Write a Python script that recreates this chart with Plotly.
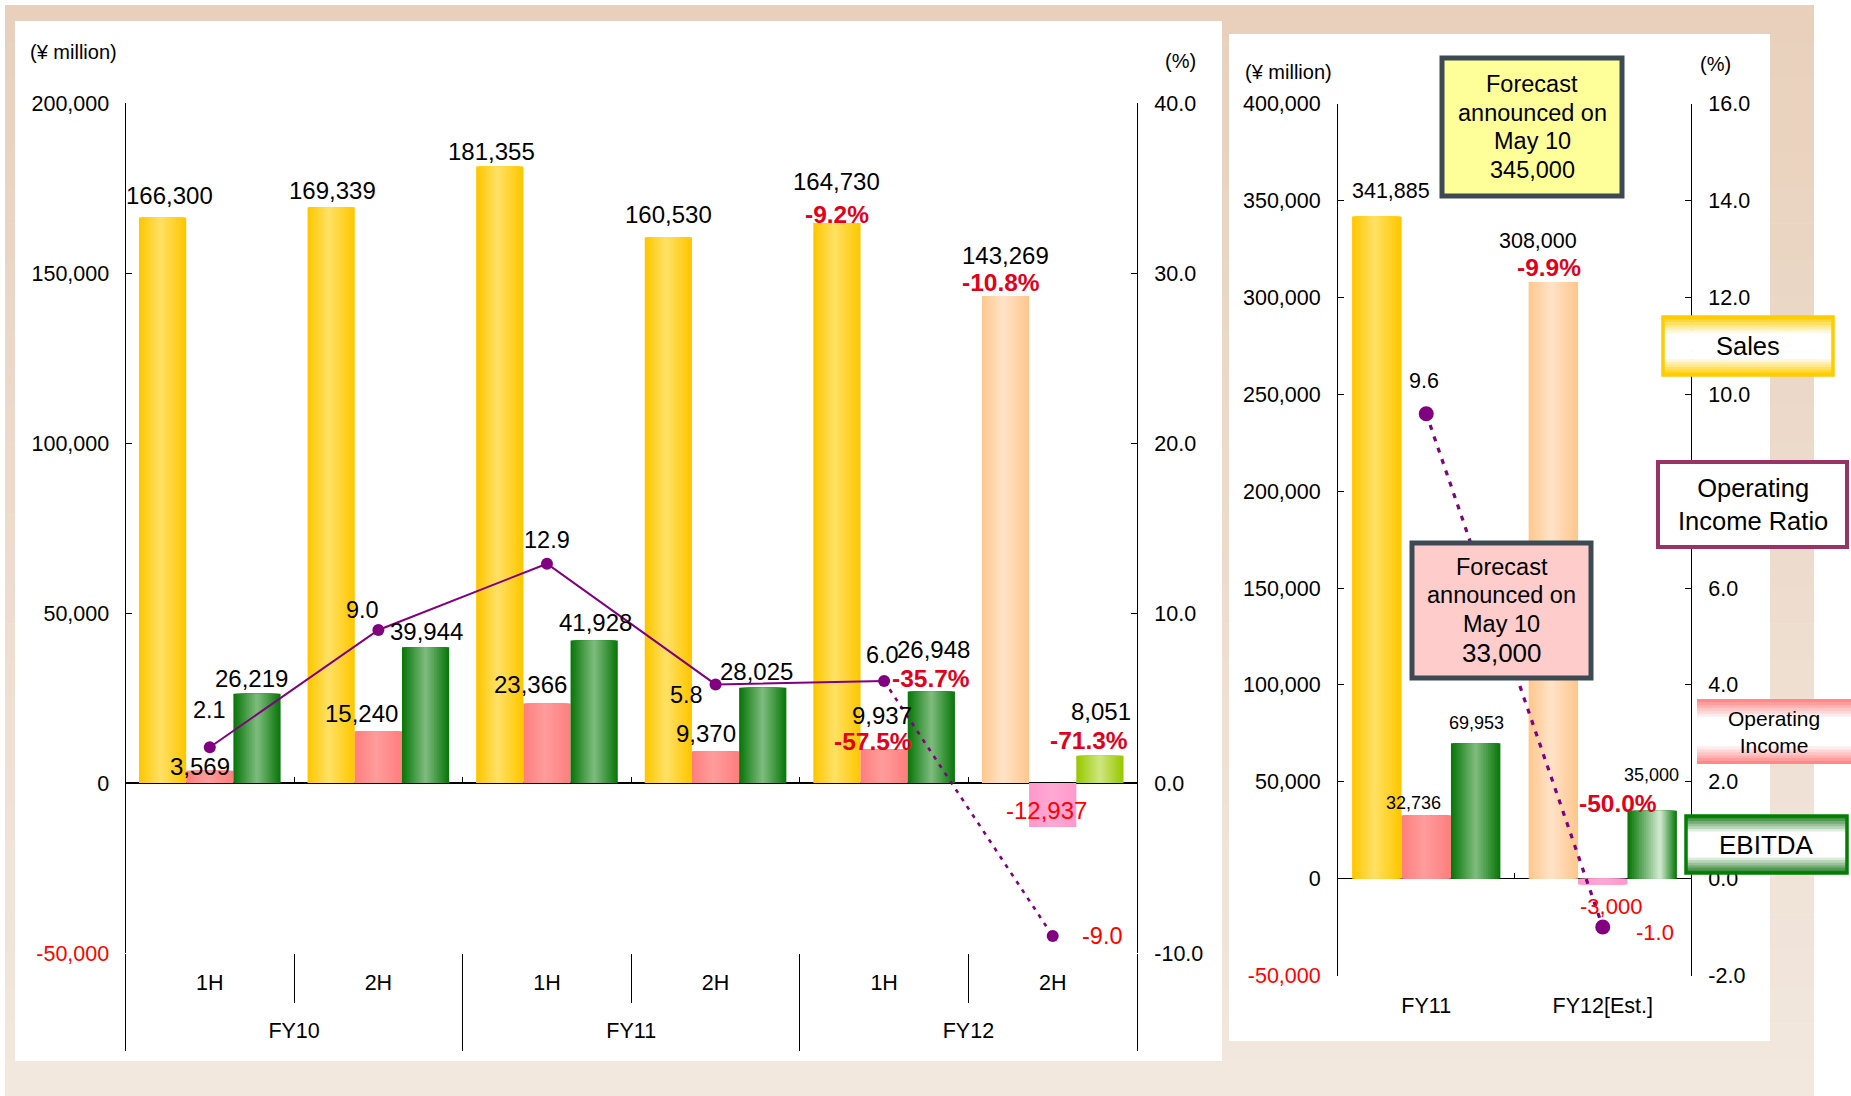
import plotly.graph_objects as go

# ===================== DATA : half-year chart (left) =====================
fiscal_years = ["FY10", "FY10", "FY11", "FY11", "FY12", "FY12"]
halves = ["1H", "2H", "1H", "2H", "1H", "2H"]
half_is_estimate = [False, False, False, False, False, True]
half_sales = [166300, 169339, 181355, 160530, 164730, 143269]
half_op_income = [3569, 15240, 23366, 9370, 9937, -12937]
half_ebitda = [26219, 39944, 41928, 28025, 26948, 8051]
half_op_ratio = [2.1, 9.0, 12.9, 5.8, 6.0, -9.0]
half_sales_yoy = [None, None, None, None, -9.2, -10.8]
half_op_income_yoy = [None, None, None, None, -57.5, None]
half_ebitda_yoy = [None, None, None, None, -35.7, -71.3]

# ===================== DATA : full-year chart (right) =====================
years = ["FY11", "FY12[Est.]"]
year_is_estimate = [False, True]
year_sales = [341885, 308000]
year_op_income = [32736, -3000]
year_ebitda = [69953, 35000]
year_op_ratio = [9.6, -1.0]
year_sales_yoy = [None, -9.9]
year_op_income_yoy = [None, None]
year_ebitda_yoy = [None, -50.0]

forecast_sales_may10 = 345000
forecast_op_income_may10 = 33000

# ===================== AXIS TICKS =====================
left_amount_ticks = [-50000, 0, 50000, 100000, 150000, 200000]
left_ratio_ticks = [-10.0, 0.0, 10.0, 20.0, 30.0, 40.0]
right_amount_ticks = [-50000, 0, 50000, 100000, 150000, 200000, 250000, 300000, 350000, 400000]
right_ratio_ticks = [-2.0, 0.0, 2.0, 4.0, 6.0, 8.0, 10.0, 12.0, 14.0, 16.0]

# ===================== STYLE / GEOMETRY =====================
W, H = 1851, 1096
FONT = "Arial, 'Liberation Sans', Helvetica, sans-serif"
PURPLE = "#800080"
NEG_RED = "#FF0000"
YOY_RED = "#E2001A"
TICK_SIZE = 21.5

BAR_W = 0.28
SERIES_OFFSET = {"sales": -0.42, "op": -0.14, "ebitda": 0.14}

# (edge colour, highlight colour, highlight position across the bar)
LEFT_STYLES = {
    "sales": {False: ("#FFC700", "#FFE063", 0.45), True: ("#FFC88E", "#FFE2C6", 0.45)},
    "op": {False: ("#FF7F7F", "#FF9B9B", 0.45), True: ("#FF99CC", "#FFA8D4", 0.5)},
    "ebitda": {False: ("#0A780A", "#7BBA7B", 0.5), True: ("#99C800", "#CDE67C", 0.5)},
}
RIGHT_STYLES = {
    "sales": LEFT_STYLES["sales"],
    "op": LEFT_STYLES["op"],
    "ebitda": {False: ("#0A780A", "#7BBA7B", 0.5), True: ("#0A780A", "#CDE7CD", 0.66)},
}

# label offsets (px): (dx, dy-up) relative to bar end / marker
LEFT_OFFSETS = {
    "sales": [(7, 22), (1, 17), (-8, 15), (0, 23), (0, 41), (0, 40)],
    "sales_yoy": {4: (0, 8), 5: (-5, 13)},
    "op": [(-10, 4), (-17, 18), (-16, 19), (-10, 18), (-2, 34), (-6, 16)],
    "op_yoy": {4: (-11, 8)},
    "ebitda": [(-6, 15), (1, 16), (1, 18), (-6, 16), (2, 42), (1, 44)],
    "ebitda_yoy": {4: (0, 13), 5: (-11, 15)},
    "ratio": [(0, 37), (-16, 20), (0, 24), (-29, -11), (-2, 26), (50, 0)],
}
RIGHT_OFFSETS = {
    "sales": [(14, 25), (-15, 41)],
    "sales_yoy": {1: (-4, 15)},
    "op": [(-13, 12), (8, -22)],
    "op_yoy": {},
    "ebitda": [(1, 20), (-1, 36)],
    "ebitda_yoy": {1: (-34, 7)},
    "ratio": [(-2, 33), (52, -5)],
}
LEFT_SIZES = {"sales": 24, "op": 24, "ebitda": 24, "ratio": 23.5, "yoy": 24.5}
RIGHT_SIZES = {"sales": 21.5, "op": 18, "op_neg": 22, "ebitda": 18, "ratio": 21.5,
               "ratio_neg": 22, "yoy": 24.5}

# plot areas in pixels
LEFT_X = (125.5, 1137.0)
LEFT_Y = (103.0, 953.0)      # top, bottom
RIGHT_X = (1338.0, 1691.0)
RIGHT_Y = (103.8, 975.5)


def fx(px):
    return px / W


def fy(py):
    return 1 - py / H


def hex2rgb(h):
    h = h.lstrip("#")
    return tuple(int(h[i:i + 2], 16) for i in (0, 2, 4))


def mix(c1, c2, t):
    a, b = hex2rgb(c1), hex2rgb(c2)
    return "rgb(%d,%d,%d)" % tuple(round(a[i] + (b[i] - a[i]) * t) for i in range(3))


fig = go.Figure()
annotations = []
shapes = []


def gradient_bars(xs, ys, base_offset, width, styles, xa, ya, steps=14):
    traces = []
    for k in range(steps):
        tg = k / steps
        tc = k / (steps - 1)
        offs, wids, cols = [], [], []
        for edge, hi, hp in styles:
            left = hp * tg
            right = hp + (1 - hp) * (1 - tg)
            offs.append(base_offset + width * left)
            wids.append(width * (right - left))
            cols.append(mix(edge, hi, tc))
        traces.append(go.Bar(x=xs, y=ys, offset=offs, width=wids,
                             marker=dict(color=cols, line=dict(width=0)),
                             xaxis=xa, yaxis=ya, hoverinfo="skip", showlegend=False))
    return traces


def label(text, x, y, xref, yref, dx, dy, size, color):
    return dict(text=text, x=x, y=y, xref=xref, yref=yref, xshift=dx, yshift=dy,
                showarrow=False, xanchor="center", yanchor="middle",
                font=dict(size=size, color=color, family=FONT))


def paper_text(text, cx, cy, size, align="center"):
    return dict(text=text, xref="paper", yref="paper", x=fx(cx), y=fy(cy),
                xanchor="center", yanchor="middle", showarrow=False, align=align,
                font=dict(size=size, color="black", family=FONT))


def add_chart(xa, ya, ya2, sales, op, ebitda, ratio, est, yoys, styles, offsets, sizes,
              marker_size, line_width, dot_dash, dot_width):
    n = len(sales)
    xs = list(range(n))
    series = [("sales", sales), ("op", op), ("ebitda", ebitda)]
    for key, vals in series:
        sty = [styles[key][e] for e in est]
        for tr in gradient_bars(xs, vals, SERIES_OFFSET[key], BAR_W, sty, xa, ya):
            fig.add_trace(tr)
    actual = [i for i in xs if not est[i]]
    if len(actual) > 1:
        fig.add_trace(go.Scatter(x=actual, y=[ratio[i] for i in actual], mode="lines",
                                 line=dict(color=PURPLE, width=line_width),
                                 xaxis=xa, yaxis=ya2, hoverinfo="skip", showlegend=False))
    dotted = [actual[-1]] + [i for i in xs if est[i]]
    fig.add_trace(go.Scatter(x=dotted, y=[ratio[i] for i in dotted], mode="lines",
                             line=dict(color=PURPLE, width=dot_width, dash=dot_dash),
                             xaxis=xa, yaxis=ya2, hoverinfo="skip", showlegend=False))
    fig.add_trace(go.Scatter(x=xs, y=ratio, mode="markers",
                             marker=dict(color=PURPLE, size=marker_size),
                             xaxis=xa, yaxis=ya2, hoverinfo="skip", showlegend=False))
    for key, vals in series:
        cx = SERIES_OFFSET[key] + BAR_W / 2
        for i, v in enumerate(vals):
            dx, dy = offsets[key][i]
            neg = v < 0
            size = sizes.get(key + "_neg", sizes[key]) if neg else sizes[key]
            annotations.append(label(f"{v:,}", i + cx, v, xa, ya, dx, dy, size,
                                     NEG_RED if neg else "black"))
        for i, p in enumerate(yoys[key]):
            if p is None:
                continue
            dx, dy = offsets[key + "_yoy"][i]
            annotations.append(label(f"<b>{p:.1f}%</b>", i + cx, vals[i], xa, ya, dx, dy,
                                     sizes["yoy"], YOY_RED))
    for i, r in enumerate(ratio):
        dx, dy = offsets["ratio"][i]
        neg = r < 0
        size = sizes.get("ratio_neg", sizes["ratio"]) if neg else sizes["ratio"]
        annotations.append(label(f"{r:.1f}", i, r, xa, ya2, dx, dy, size,
                                 NEG_RED if neg else "black"))


add_chart("x", "y", "y2", half_sales, half_op_income, half_ebitda, half_op_ratio,
          half_is_estimate,
          {"sales": half_sales_yoy, "op": half_op_income_yoy, "ebitda": half_ebitda_yoy},
          LEFT_STYLES, LEFT_OFFSETS, LEFT_SIZES, 12, 2, "4px,6px", 2.6)
add_chart("x5", "y3", "y4", year_sales, year_op_income, year_ebitda, year_op_ratio,
          year_is_estimate,
          {"sales": year_sales_yoy, "op": year_op_income_yoy, "ebitda": year_ebitda_yoy},
          RIGHT_STYLES, RIGHT_OFFSETS, RIGHT_SIZES, 15, 2, "5px,7px", 3.2)

# ---------------- category axis helpers ----------------
n_half = len(halves)
inner_bounds = [i + 0.5 for i in range(n_half - 1) if fiscal_years[i] == fiscal_years[i + 1]]
outer_bounds = ([-0.5] + [i + 0.5 for i in range(n_half - 1) if fiscal_years[i] != fiscal_years[i + 1]]
                + [n_half - 0.5])
groups = []
for i, g in enumerate(fiscal_years):
    if groups and groups[-1][0] == g:
        groups[-1][2] = i
    else:
        groups.append([g, i, i])
group_centers = [(s + e) / 2 for _, s, e in groups]
group_names = [g[0] for g in groups]
n_year = len(years)
year_bounds = [i + 0.5 for i in range(n_year - 1)]


def anchor_trace(xa, ya, n):
    return go.Scatter(x=list(range(n)), y=[0] * n, mode="markers",
                      marker=dict(size=1, opacity=0), xaxis=xa, yaxis=ya,
                      hoverinfo="skip", showlegend=False)


for xa in ("x2", "x3", "x4"):
    fig.add_trace(anchor_trace(xa, "y", n_half))
fig.add_trace(anchor_trace("x6", "y3", n_year))

left_xdom = [fx(LEFT_X[0]), fx(LEFT_X[1])]
left_ydom = [fy(LEFT_Y[1]), fy(LEFT_Y[0])]
right_xdom = [fx(RIGHT_X[0]), fx(RIGHT_X[1])]
right_ydom = [fy(RIGHT_Y[1]), fy(RIGHT_Y[0])]
L_RANGE = [min(left_amount_ticks), max(left_amount_ticks)]
L2_RANGE = [min(left_ratio_ticks), max(left_ratio_ticks)]
R_RANGE = [min(right_amount_ticks), max(right_amount_ticks)]
R2_RANGE = [min(right_ratio_ticks), max(right_ratio_ticks)]


def zero_pos(dom, rng):
    return dom[0] + (0 - rng[0]) / (rng[1] - rng[0]) * (dom[1] - dom[0])


def amount_text(vals):
    return [f'<span style="color:{NEG_RED}">{v:,}</span>' if v < 0 else f"{v:,}" for v in vals]


def ratio_text(vals):
    return [f"{v:.1f}" for v in vals]


tickfont = dict(size=TICK_SIZE, color="black", family=FONT)


def xax(**kw):
    d = dict(showgrid=False, zeroline=False, showline=False, fixedrange=True,
             tickfont=tickfont, tickmode="array", ticks="", automargin=False)
    d.update(kw)
    return d


def yax(**kw):
    d = dict(showgrid=False, zeroline=False, showline=True, linecolor="black", linewidth=1,
             ticks="inside", ticklen=6, tickwidth=1, tickcolor="black", fixedrange=True,
             tickfont=tickfont, tickmode="array", automargin=False)
    d.update(kw)
    return d


# ---------------- background shapes ----------------
def rect(x0, y0, x1, y1, fill, line_color="rgba(0,0,0,0)", line_width=0, layer="below"):
    return dict(type="rect", xref="paper", yref="paper", x0=fx(x0), x1=fx(x1),
                y0=fy(y1), y1=fy(y0), fillcolor=fill,
                line=dict(color=line_color, width=line_width), layer=layer)


def vgrad(x0, y0, x1, y1, color_fn, n, layer):
    out = []
    h = (y1 - y0) / n
    for k in range(n):
        t = (k + 0.5) / n
        yb = y0 + (k + 1) * h + (0.6 if k < n - 1 else 0)
        out.append(rect(x0, y0 + k * h, x1, yb, color_fn(t), layer=layer))
    return out


shapes += vgrad(5, 5, 1814, 1096, lambda t: mix("#E8D0BB", "#F2E8DF", t), 30, "below")
shapes.append(rect(15, 21, 1222, 1061, "#FFFFFF"))
shapes.append(rect(1229, 34, 1770, 1041, "#FFFFFF"))

# forecast boxes (text drawn line by line to match the original line spacing)
BOX_LINE = "#3D4A53"
shapes.append(rect(1442, 58, 1622, 196, "#FFFF99", BOX_LINE, 5, "above"))
shapes.append(rect(1412, 543, 1591, 678, "#FFCCCC", BOX_LINE, 5, "above"))
sales_box_lines = ["Forecast", "announced on", "May 10", f"{forecast_sales_may10:,}"]
op_box_lines = ["Forecast", "announced on", "May 10", f"{forecast_op_income_may10:,}"]
for k, t in enumerate(sales_box_lines):
    annotations.append(paper_text(t, 1532, 127 + (k - 1.5) * 28.4, 23.5))
for k, t in enumerate(op_box_lines):
    annotations.append(paper_text(t, 1501.5, 609.7 + (k - 1.5) * 28.7,
                                  26 if k == len(op_box_lines) - 1 else 23.5))


def band_fn(edge):
    return lambda t: mix(edge, "#FFFFFF", min(1.0, 1.7 * (1 - abs(2 * t - 1))))


# legend boxes
shapes += vgrad(1663, 317, 1833, 375, band_fn("#FFCC00"), 22, "above")
shapes.append(rect(1663, 317, 1833, 375, "rgba(0,0,0,0)", "#FFCC00", 3.5, "above"))
shapes.append(rect(1658, 462, 1847, 547, "#FFFFFF", "#993366", 4, "above"))
shapes += vgrad(1697, 699, 1851, 764, band_fn("#FF7F7F"), 22, "above")
shapes += vgrad(1686, 816, 1847, 873, band_fn("#1E781E"), 22, "above")
shapes.append(rect(1686, 816, 1847, 873, "rgba(0,0,0,0)", "#008000", 3.5, "above"))

for text, cx, cy, size in [("Sales", 1748, 346, 25.5),
                           ("Operating<br>Income Ratio", 1752.5, 504.5, 25.5),
                           ("Operating<br>Income", 1774, 731.5, 21),
                           ("EBITDA", 1766.5, 844.5, 26)]:
    annotations.append(paper_text(text, cx, cy, size))

# unit labels
for text, cx, cy in [("(¥ million)", 73, 52), ("(%)", 1180, 61),
                     ("(¥ million)", 1288, 72), ("(%)", 1715, 64)]:
    annotations.append(paper_text(text, cx, cy, 20))

fig.update_layout(
    width=W, height=H, margin=dict(l=0, r=0, t=0, b=0, pad=0, autoexpand=False),
    autosize=False,
    paper_bgcolor="#FFFFFF", plot_bgcolor="rgba(0,0,0,0)",
    barmode="overlay", showlegend=False, font=dict(family=FONT, color="black"),
    shapes=shapes, annotations=annotations,
    xaxis=xax(domain=left_xdom, anchor="y", range=[-0.5, n_half - 0.5],
              tickvals=list(range(n_half)), ticktext=halves, ticklabelstandoff=14),
    xaxis2=xax(overlaying="x", anchor="y", range=[-0.5, n_half - 0.5],
               tickvals=group_centers, ticktext=group_names, ticklabelstandoff=62),
    xaxis3=xax(overlaying="x", anchor="y", range=[-0.5, n_half - 0.5],
               tickvals=outer_bounds, ticks="outside", ticklen=97, tickcolor="black",
               tickwidth=1, showticklabels=False,
               minor=dict(tickmode="array", tickvals=inner_bounds, ticks="outside",
                          ticklen=49, tickcolor="black", tickwidth=1, showgrid=False)),
    xaxis4=xax(overlaying="x", anchor="free", position=zero_pos(left_ydom, L_RANGE),
               range=[-0.5, n_half - 0.5], tickvals=inner_bounds + outer_bounds[1:-1],
               ticks="inside", ticklen=6, tickcolor="black", tickwidth=1,
               showticklabels=False),
    xaxis5=xax(domain=right_xdom, anchor="y3", range=[-0.5, n_year - 0.5],
               tickvals=list(range(n_year)), ticktext=years, ticklabelstandoff=15),
    xaxis6=xax(overlaying="x5", anchor="free", position=zero_pos(right_ydom, R_RANGE),
               range=[-0.5, n_year - 0.5], tickvals=year_bounds, ticks="inside", ticklen=6,
               tickcolor="black", tickwidth=1, showticklabels=False),
    yaxis=yax(domain=left_ydom, anchor="x", range=L_RANGE, tickvals=left_amount_ticks,
              ticktext=amount_text(left_amount_ticks), zeroline=True, zerolinecolor="black",
              zerolinewidth=1.3, ticklabelstandoff=11),
    yaxis2=yax(overlaying="y", anchor="x", side="right", range=L2_RANGE,
               tickvals=left_ratio_ticks, ticktext=ratio_text(left_ratio_ticks),
               ticklabelstandoff=12),
    yaxis3=yax(domain=right_ydom, anchor="x5", range=R_RANGE, tickvals=right_amount_ticks,
               ticktext=amount_text(right_amount_ticks), zeroline=True, zerolinecolor="black",
               zerolinewidth=1.3, ticklabelstandoff=12),
    yaxis4=yax(overlaying="y3", anchor="x5", side="right", range=R2_RANGE,
               tickvals=right_ratio_ticks, ticktext=ratio_text(right_ratio_ticks),
               ticklabelstandoff=12),
)

fig.write_html("out.html", config={"displayModeBar": False, "staticPlot": True},
               post_script="document.body.style.margin='0';document.body.style.overflow='hidden';")
